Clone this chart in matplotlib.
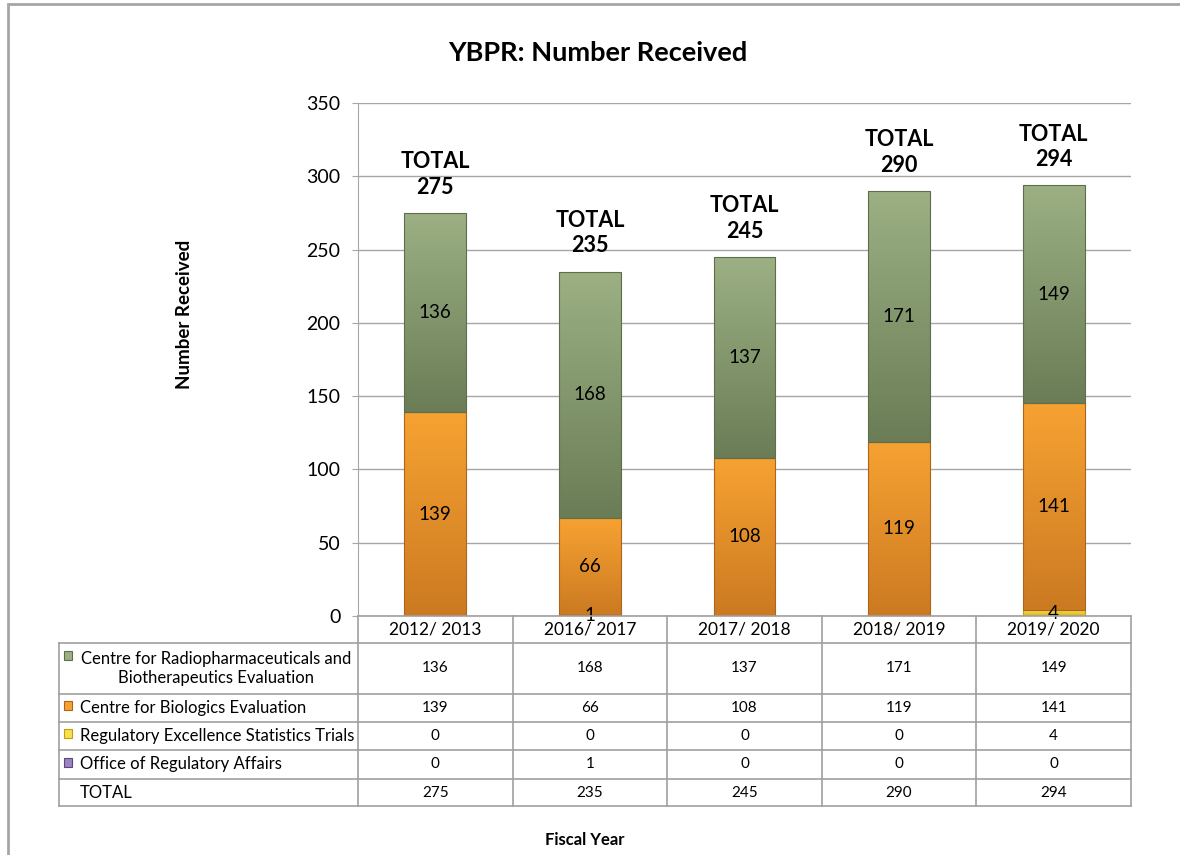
import numpy as np
import matplotlib
matplotlib.use("Agg")
import matplotlib.pyplot as plt
from matplotlib.colors import LinearSegmentedColormap
from matplotlib.patches import Rectangle

plt.rcParams['font.family'] = ['Lato', 'DejaVu Sans']

years = ["2012/ 2013", "2016/ 2017", "2017/ 2018", "2018/ 2019", "2019/ 2020"]
series = ["Centre for Radiopharmaceuticals and\nBiotherapeutics Evaluation",
          "Centre for Biologics Evaluation",
          "Regulatory Excellence Statistics Trials",
          "Office of Regulatory Affairs"]
crbe = [136, 168, 137, 171, 149]
cbe = [139, 66, 108, 119, 141]
rest = [0, 0, 0, 0, 4]
ora = [0, 1, 0, 0, 0]
totals = [275, 235, 245, 290, 294]

# (top colour, bottom colour, edge colour) per series
styles = {
    "ora": ("#9a84bd", "#6b5390", "#5d4680"),
    "rest": ("#f7e04a", "#d9b21c", "#c29c12"),
    "cbe": ("#f6a232", "#cc7a22", "#b0641b"),
    "crbe": ("#9cb084", "#6a7d56", "#5c6e4a"),
}

W, H = 1180, 855
fig = plt.figure(figsize=(W / 100, H / 100), dpi=100)

def fx(px):
    return px / W

def fy(py):
    return 1 - py / H

# outer chart frame
fig.add_artist(Rectangle((fx(8), fy(900)), fx(1300), fy(4) - fy(900), transform=fig.transFigure,
                         fill=False, edgecolor="#a6a6a6", linewidth=2))

ax = fig.add_axes([fx(358), fy(616), fx(1131) - fx(358), fy(103) - fy(616)])
x = np.arange(len(years))


def gradient_bars(bars, top, bottom, edge):
    cmap = LinearSegmentedColormap.from_list("g", [bottom, top])
    g = np.linspace(0, 1, 100).reshape(-1, 1)
    for b in bars:
        if b.get_height() <= 0:
            continue
        x0, y0 = b.get_x(), b.get_y()
        im = ax.imshow(g, extent=(x0, x0 + b.get_width(), y0, y0 + b.get_height()),
                       origin="lower", cmap=cmap, aspect="auto", zorder=2)
        im.set_clip_path(b)
        b.set_facecolor("none")
        b.set_edgecolor(edge)
        b.set_linewidth(0.8)
        b.set_zorder(3)


bottom = np.zeros(len(years))
for key, vals in [("ora", ora), ("rest", rest), ("cbe", cbe), ("crbe", crbe)]:
    vals = np.array(vals, dtype=float)
    bars = ax.bar(x, vals, 0.40, bottom=bottom, zorder=2)
    gradient_bars(bars, *styles[key])
    for i, v in enumerate(vals):
        if v > 0:
            ax.text(x[i], bottom[i] + v / 2, f"{int(v)}", ha="center", va="center",
                    fontsize=13.5, color="black", zorder=5)
    bottom += vals

for i, t in enumerate(totals):
    ax.annotate(f"TOTAL\n{t}", xy=(x[i], t), xytext=(0, 11), textcoords="offset points",
                ha="center", va="bottom", fontsize=15.5, fontweight="bold", linespacing=1.25)

ax.set_xlim(-0.5, 4.5)
ax.set_ylim(0, 350)
ax.set_yticks(range(0, 351, 50))
ax.set_xticks([])
ax.grid(axis="y", color="#a6a6a6", linewidth=1)
ax.set_axisbelow(True)
for s in ["top", "right", "bottom"]:
    ax.spines[s].set_visible(False)
ax.spines["left"].set_color("#a6a6a6")
ax.tick_params(axis="y", length=4.5, color="#a6a6a6", labelsize=14, pad=8)

# data table under the plot
tab = fig.add_axes([fx(59), fy(806), fx(1131) - fx(59), fy(616) - fy(806)])
label_w = (358 - 59) / ((1131 - 358) / 5)
tab.set_xlim(-0.5 - label_w, 4.5)
tab.set_ylim(806, 616)
tab.axis("off")

rows = [643, 694, 722, 750, 779, 806]
line_kw = dict(color="#a0a0a0", linewidth=1.2, clip_on=False)
tab.plot([-0.5, 4.5], [616, 616], **line_kw)
for r in rows:
    tab.plot([-0.5 - label_w, 4.5], [r, r], **line_kw)
for c in np.arange(-0.5, 4.6, 1.0):
    tab.plot([c, c], [616, 806], **line_kw)
tab.plot([-0.5 - label_w] * 2, [643, 806], **line_kw)

for i, yr in enumerate(years):
    tab.text(i, (616 + 643) / 2, yr, ha="center", va="center", fontsize=12.5)

table_vals = [crbe, cbe, rest, ora, totals]
unit = (1131 - 358) / 5
for r, vals in enumerate(table_vals):
    yc = (rows[r] + rows[r + 1]) / 2
    for i, v in enumerate(vals):
        tab.text(i, yc, str(v), ha="center", va="center", fontsize=11)

text_x = -0.5 - label_w + (80 - 59) / unit
mark_x = -0.5 - label_w + (64 - 59) / unit
for r, (key, name) in enumerate(zip(["crbe", "cbe", "rest", "ora"], series)):
    yc = (rows[r] + rows[r + 1]) / 2
    top, bot, edge = styles[key]
    my = rows[r] + 13 if r == 0 else yc - 2
    tab.add_patch(Rectangle((mark_x, my - 4.5), 8.5 / unit, 9, facecolor=top,
                            edgecolor=edge, linewidth=0.8))
    if r == 0:
        tab.text(-0.5 - label_w + (216 - 59) / unit, yc, name, ha="center", va="center",
                 fontsize=12, linespacing=1.3)
    else:
        tab.text(text_x, yc, name, ha="left", va="center", fontsize=12)
tab.text(text_x, (rows[4] + rows[5]) / 2, "TOTAL", ha="left", va="center", fontsize=12)

fig.text(fx(598), fy(53), "YBPR: Number Received", ha="center", va="center",
         fontsize=19.5, fontweight="bold")
fig.text(fx(185), fy(314), "Number Received", ha="center", va="center", rotation=90,
         fontsize=13.5, fontweight="bold")
fig.text(fx(585), fy(840), "Fiscal Year", ha="center", va="center", fontsize=12,
         fontweight="bold")

fig.savefig("out.png", dpi=100)
